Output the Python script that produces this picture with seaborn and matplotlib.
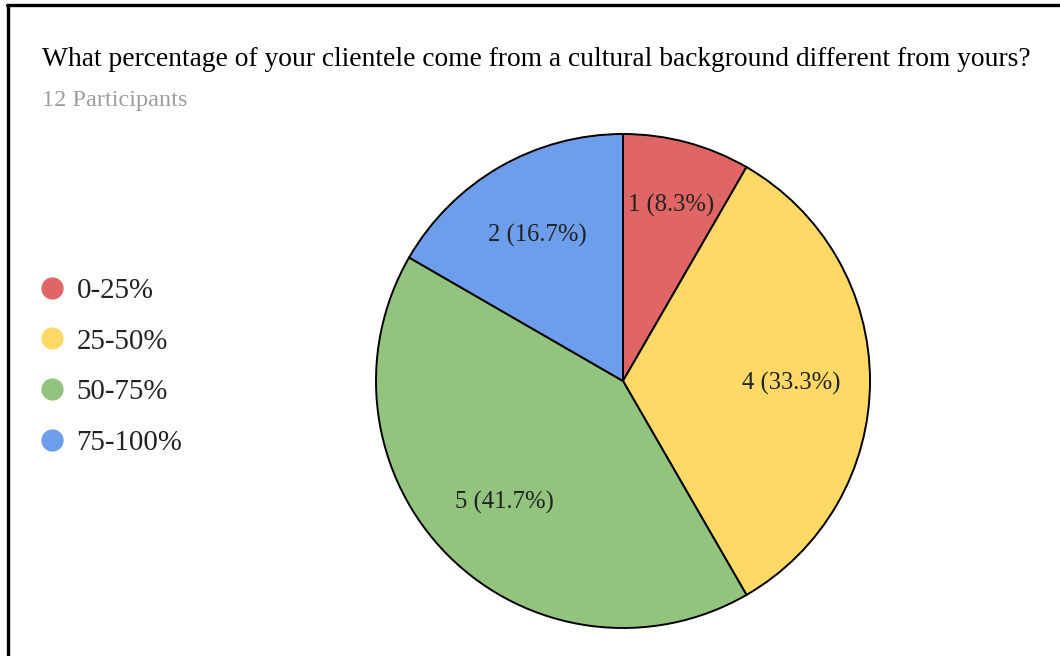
import matplotlib
matplotlib.use("Agg")
import matplotlib.pyplot as plt
from matplotlib.lines import Line2D
import numpy as np
import seaborn as sns

# ---- data ----
categories = ["0-25%", "25-50%", "50-75%", "75-100%"]
counts = [1, 4, 5, 2]
colors = ["#E06666", "#FFD966", "#93C47D", "#6D9EEB"]
title = "What percentage of your clientele come from a cultural background different from yours?"
subtitle = "12 Participants"

sns.set_theme(style="white")
plt.rcParams["font.family"] = ["Liberation Serif", "DejaVu Serif"]

W, H = 1060, 656
fig = plt.figure(figsize=(W / 100, H / 100), dpi=100)
fig.patch.set_facecolor("white")

# pie axes: center (623,381), radius ~247 px
lim = 1.03
r_px = 247
cx, cy = 623, 381
half = r_px * lim
ax = fig.add_axes([(cx - half) / W, (H - cy - half) / H, 2 * half / W, 2 * half / H])
total = sum(counts)
wedges, _ = ax.pie(
    counts,
    colors=colors,
    startangle=90,
    counterclock=False,
    wedgeprops=dict(edgecolor="black", linewidth=1.4),
)
ax.set_xlim(-lim, lim)
ax.set_ylim(-lim, lim)
ax.set_aspect("equal")
ax.axis("off")

dists = [0.745, 0.68, 0.68, 0.69]
for w, c, d in zip(wedges, counts, dists):
    ang = np.deg2rad((w.theta1 + w.theta2) / 2)
    ax.text(d * np.cos(ang), d * np.sin(ang) - 0.01, f"{c} ({100 * c / total:.1f}%)",
            ha="center", va="center", fontsize=17.7, color="#222222")

# title
fig.text(42 / W, 1 - 65.5 / H, title, fontsize=19.8, color="black", ha="left", va="baseline")
fig.text(42 / W, 1 - 106 / H, subtitle, fontsize=17.5, color="#9E9E9E", ha="left", va="baseline")

# legend
handles = [Line2D([0], [0], marker="o", linestyle="", markersize=15,
                  markerfacecolor=col, markeredgecolor=col) for col in colors]
leg = fig.legend(handles, categories, loc="upper left",
                 bbox_to_anchor=(26 / W, 1 - 266 / H), frameon=False,
                 fontsize=20.8, labelspacing=0.85, handletextpad=0.35,
                 handlelength=1.0, borderaxespad=0)
for t in leg.get_texts():
    t.set_color("#222222")

# border frame (left and top)
fig.add_artist(Line2D([7.5 / W, 7.5 / W], [0, 1 - 5 / H], color="black", linewidth=2.4,
                      transform=fig.transFigure))
fig.add_artist(Line2D([6.5 / W, 1], [1 - 5 / H, 1 - 5 / H], color="black", linewidth=2.4,
                      transform=fig.transFigure))

fig.savefig("out.png", dpi=100)
